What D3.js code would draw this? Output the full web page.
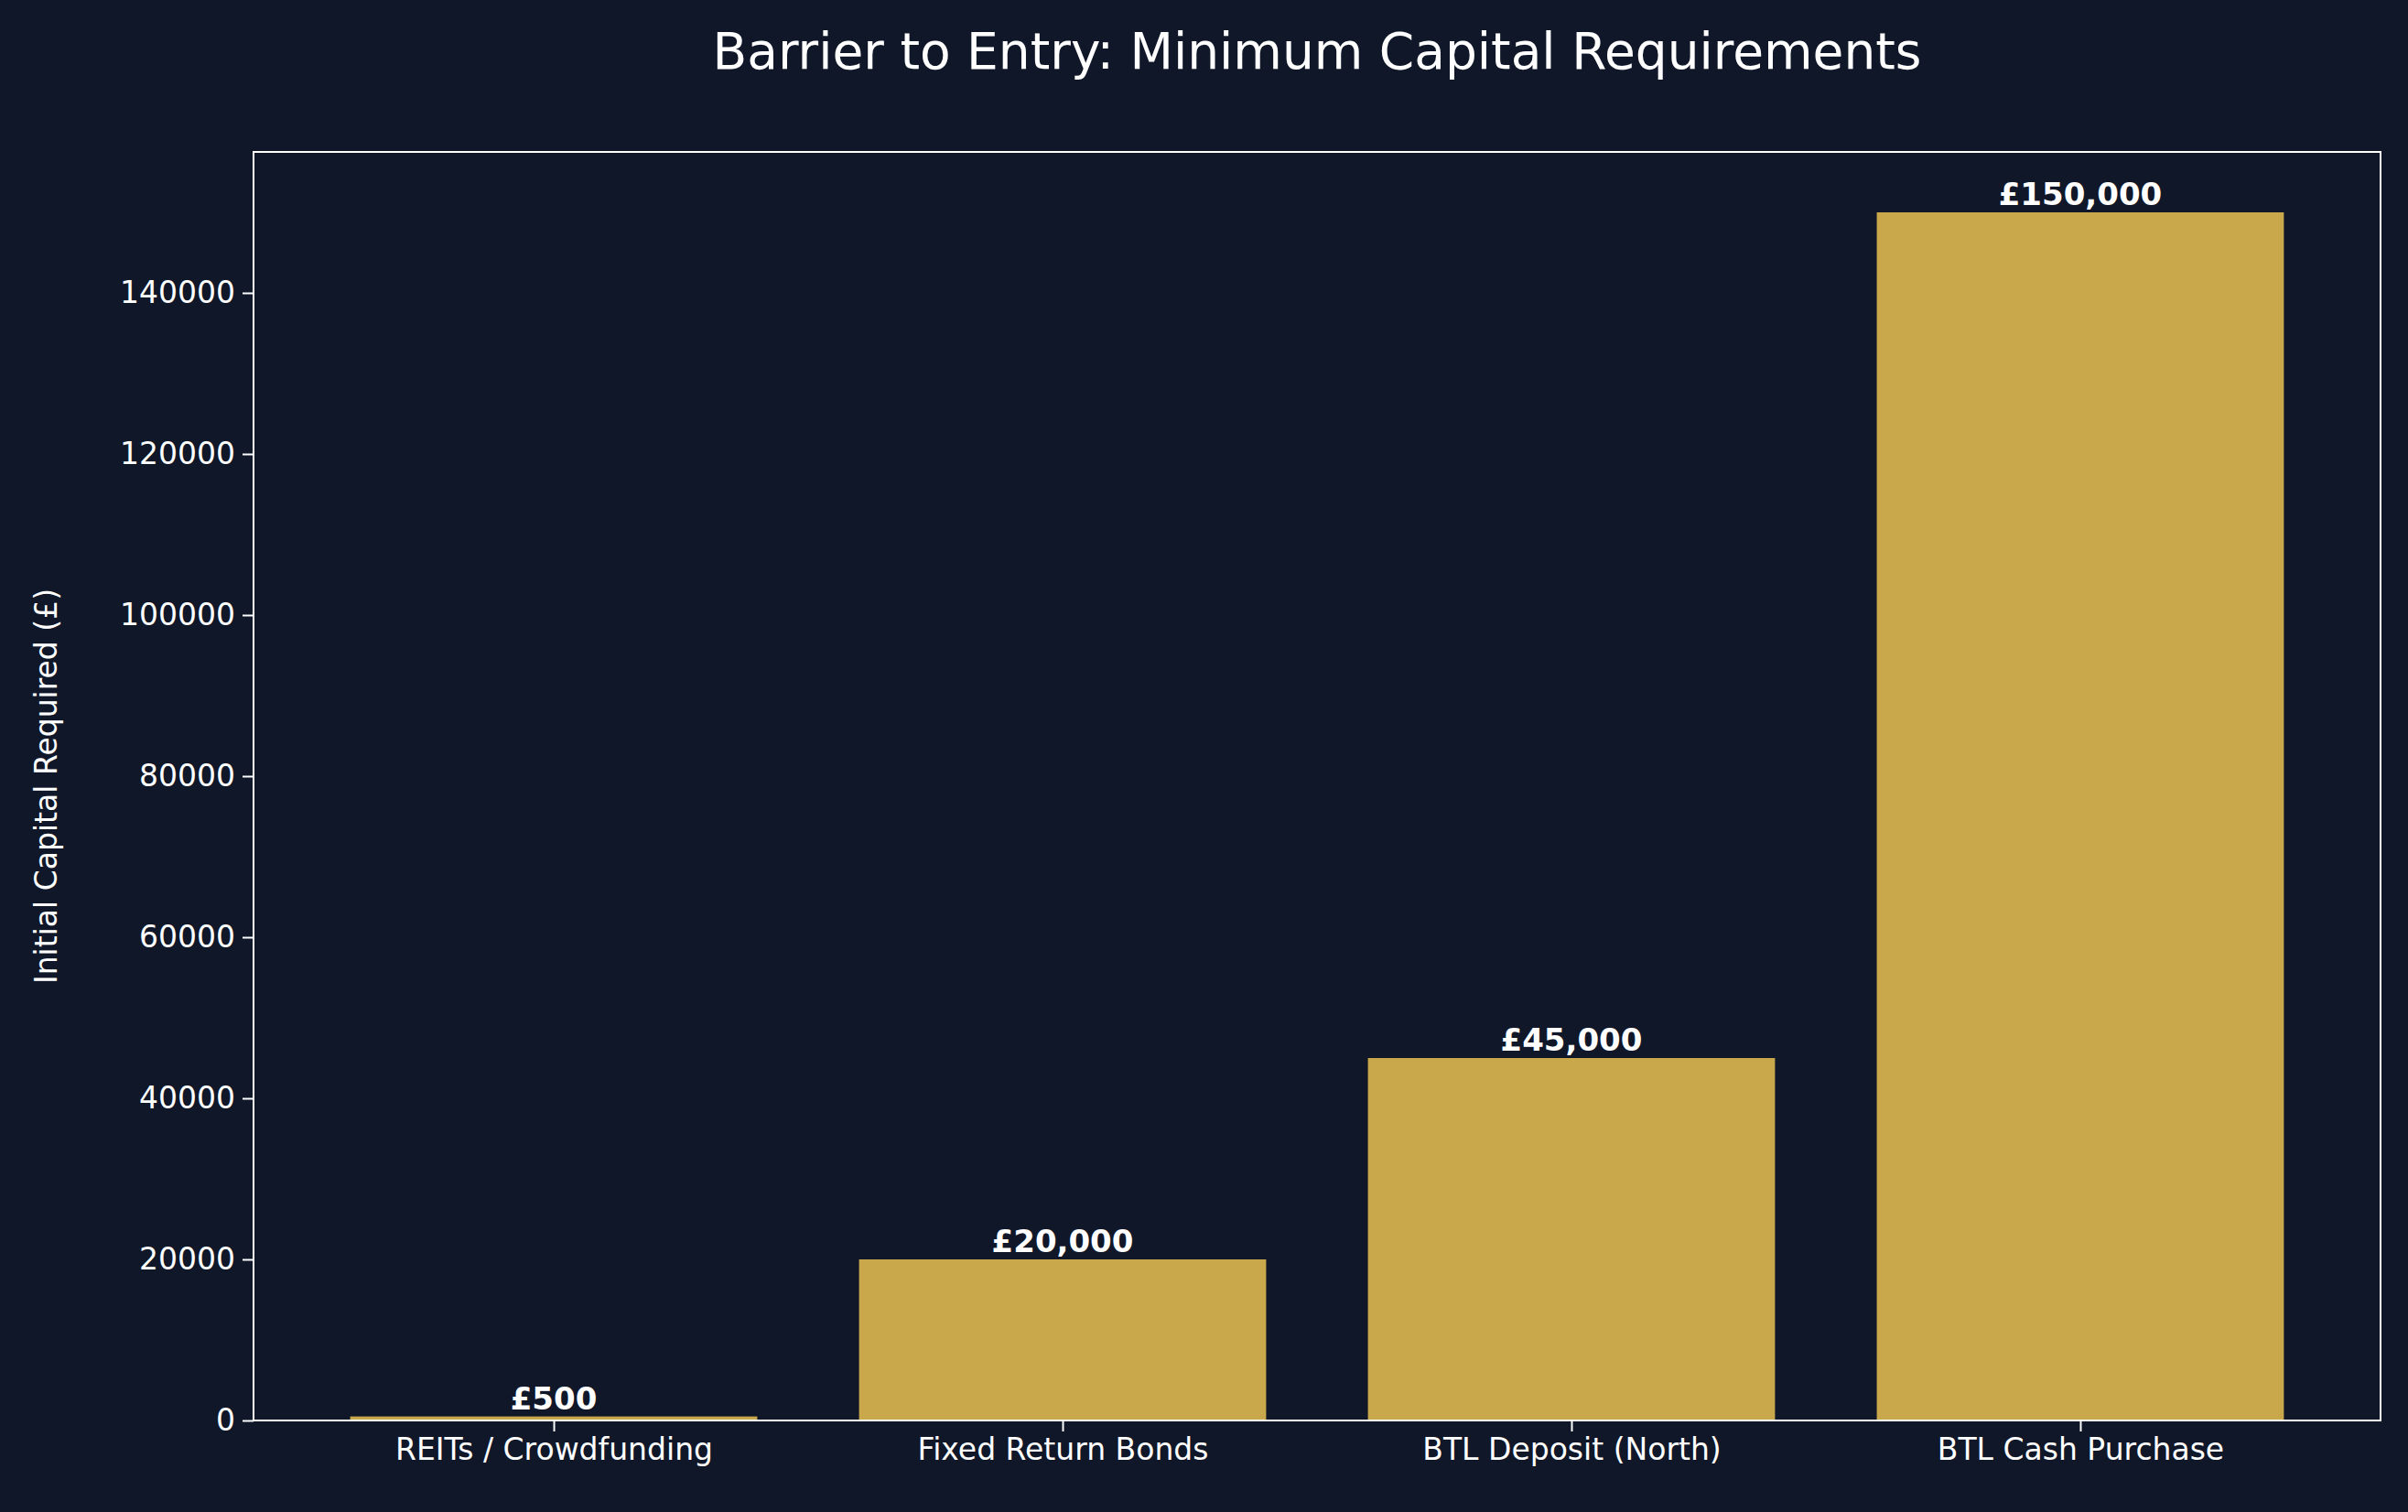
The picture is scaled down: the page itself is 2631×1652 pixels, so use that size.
<!DOCTYPE html>
<html><head><meta charset="utf-8">
<script src="https://cdn.jsdelivr.net/npm/d3@7"></script>
<style>body{margin:0;background:#0f1729;}svg{display:block;font-family:"DejaVu Sans",sans-serif;}</style>
</head><body>
<script>
const categories = ["REITs / Crowdfunding", "Fixed Return Bonds", "BTL Deposit (North)", "BTL Cash Purchase"];
const values = [500, 20000, 45000, 150000];
const yTicks = [0, 20000, 40000, 60000, 80000, 100000, 120000, 140000];

const W = 2631, H = 1652;
const m = {left: 277, right: 30, top: 166, bottom: 100};
const svg = d3.select("body").append("svg").attr("width", W).attr("height", H);
svg.append("rect").attr("width", W).attr("height", H).attr("fill", "#0f1729");

const x = d3.scaleLinear().domain([-0.59, categories.length - 1 + 0.59]).range([m.left, W - m.right]);
const y = d3.scaleLinear().domain([0, 157500]).range([H - m.bottom, m.top]);
const bw = x(0.4) - x(-0.4);

svg.selectAll(".bar").data(values).enter().append("rect")
  .attr("x", (d, i) => x(i) - bw / 2).attr("width", bw)
  .attr("y", d => y(d)).attr("height", d => y(0) - y(d))
  .attr("fill", "#c9a74b");

svg.selectAll(".lbl").data(values).enter().append("text")
  .attr("x", (d, i) => x(i)).attr("y", d => y(d) - 8)
  .attr("text-anchor", "middle").attr("fill", "#fff")
  .style("font-size", "34px").style("font-weight", "bold")
  .text(d => "£" + d3.format(",")(d));

const ya = svg.append("g").attr("transform", `translate(${m.left},0)`)
  .call(d3.axisLeft(y).tickValues(yTicks).tickFormat(d3.format("d")).tickSize(12).tickPadding(8));
const xa = svg.append("g").attr("transform", `translate(0,${H - m.bottom})`)
  .call(d3.axisBottom(x).tickValues(d3.range(categories.length)).tickFormat(i => categories[i]).tickSize(12).tickPadding(8));
[ya, xa].forEach(a => {
  a.select(".domain").remove();
  a.selectAll("line").attr("stroke", "#fff").attr("stroke-width", 2);
  a.selectAll("text").attr("fill", "#fff").style("font-size", "33px").style("font-family", "DejaVu Sans");
});

svg.append("rect").attr("x", m.left).attr("y", m.top)
  .attr("width", W - m.right - m.left).attr("height", H - m.bottom - m.top)
  .attr("fill", "none").attr("stroke", "#fff").attr("stroke-width", 2);

svg.append("text").attr("x", (m.left + W - m.right) / 2).attr("y", 75)
  .attr("text-anchor", "middle").attr("fill", "#fff").style("font-size", "55px")
  .text("Barrier to Entry: Minimum Capital Requirements");

svg.append("text").attr("transform", `translate(62,${(m.top + H - m.bottom) / 2}) rotate(-90)`)
  .attr("text-anchor", "middle").attr("fill", "#fff").style("font-size", "33px")
  .text("Initial Capital Required (£)");
</script>
</body></html>
